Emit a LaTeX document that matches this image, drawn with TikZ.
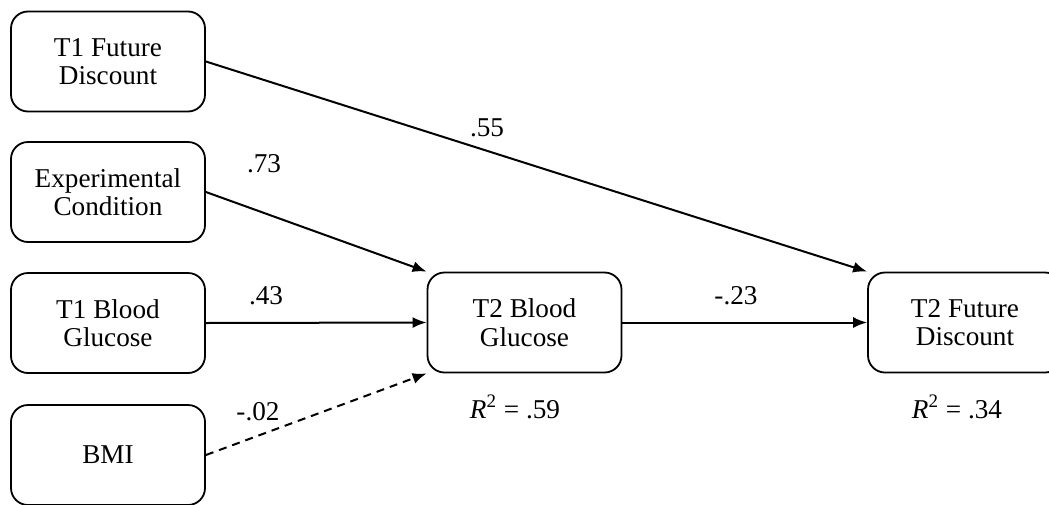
\documentclass[tikz,border=0pt]{standalone}
\usepackage{fontspec}
\setmainfont{Liberation Serif}
\usetikzlibrary{arrows.meta}

\begin{document}
\begin{tikzpicture}[x=0.5pt,y=-0.5pt,
        var node/.style={draw,rounded corners=8.5pt,line width=0.9pt,minimum width=97pt,minimum height=50pt,
          align=center,inner sep=2pt,font=\fontsize{13.6}{14.3}\selectfont},
        coef/.style={inner sep=1pt,font=\fontsize{13.6}{14.3}\selectfont},
        path edge/.style={draw,line width=1pt,-{Latex[length=7pt,width=5.5pt]}},
        weak edge/.style={path edge,dash pattern=on 4pt off 3pt}
      ]
      \useasboundingbox (0,0) rectangle (1049,504);

      % predictors, left column
      \node[var node] (tfd) at (108,61.5) {T1 Future\\Discount};
      \node[var node] (ec)  at (108,192)  {Experimental\\Condition};
      \node[var node] (tbg) at (108,323)  {T1 Blood\\Glucose};
      \node[var node] (bmi) at (108,455)  {BMI};

      % outcomes
      \node[var node] (bg2) at (524.5,322.5) {T2 Blood\\Glucose};
      \node[var node] (fd2) at (965,322.5)   {T2 Future\\Discount};

      % paths
      \path[path edge] (tfd.east) -- (fd2.north west);
      \path[path edge] (ec.east) -- (bg2.north west);
      \path[path edge] (tbg.east) -- (bg2.west);
      \path[weak edge] (bmi.east) -- (bg2.south west);
      \path[path edge] (bg2.east) -- (fd2.west);

      % coefficients
      \node[coef] (c55) at (487,128) {.55};
      \node[coef] (c73) at (264,164) {.73};
      \node[coef] (c43) at (266,296) {.43};
      \node[coef] (c02) at (258,412) {-.02};
      \node[coef] (c23) at (736,296) {-.23};
      \node[coef] (r59) at (515,407) {\textit{R}\textsuperscript{2} = .59};
      \node[coef] (r34) at (957,407) {\textit{R}\textsuperscript{2} = .34};
    \end{tikzpicture}
\end{document}
